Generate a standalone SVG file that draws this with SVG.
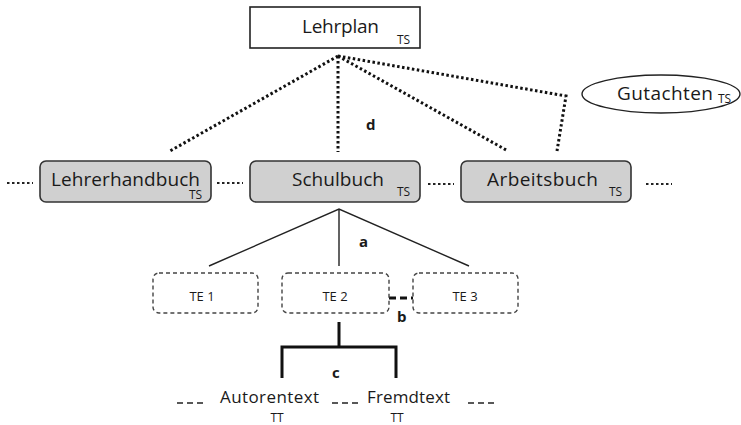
<svg xmlns="http://www.w3.org/2000/svg" width="741" height="425" viewBox="0 0 741 425">
<style>
text{font-family:"Open Sans","Liberation Sans",sans-serif;fill:#1a1a1a}
.lbl{font-size:19px}
.sub{font-size:12px}
.te{font-size:13px}
.bold{font-size:15px;font-weight:bold}
.book{fill:#d0d0d0;stroke:#333;stroke-width:1.6}
.teb{fill:none;stroke:#444;stroke-width:1.4;stroke-dasharray:4 3}
.dot{fill:none;stroke:#111;stroke-width:3;stroke-dasharray:2.5 2.5}
.sdot{fill:none;stroke:#222;stroke-width:2;stroke-dasharray:2.5 2.5}
.sol{fill:none;stroke:#222;stroke-width:1.4}
.brk{fill:none;stroke:#111;stroke-width:3}
.dash{fill:none;stroke:#222;stroke-width:1.5;stroke-dasharray:6 4}
</style>
<rect width="741" height="425" fill="#fff"/>
<g id="connectors">
<path class="dot" d="M338,56 L170,151"/>
<path class="dot" d="M338,56 L338,152"/>
<path class="dot" d="M338,56 L508,151"/>
<path class="dot" d="M338,56 L566,96 L557,151"/>
<path class="sdot" d="M7,183 H33"/>
<path class="sdot" d="M217,183 H243"/>
<path class="sdot" d="M428,184 H454"/>
<path class="sdot" d="M646,184 H672"/>
<path class="sol" d="M209,266 L339,209 L469,266 M339,209 V266"/>
<path fill="none" stroke="#111" stroke-width="3" stroke-dasharray="7 4" d="M389,298 H413"/>
<path class="brk" d="M339,322 V347 M282,378 V347 H396 V378"/>
<path class="dash" d="M177,403 H203"/>
<path class="dash" d="M332,403 H358"/>
<path class="dash" d="M468,403 H494"/>
<text class="bold" x="366" y="130">d</text>
<text class="bold" x="359" y="247">a</text>
<text class="bold" x="397" y="322">b</text>
<text class="bold" x="332" y="378">c</text>
</g>
<g id="lehrplan">
<rect x="250" y="7" width="170" height="41" fill="#fff" stroke="#222" stroke-width="1.6"/>
<text class="lbl" x="302" y="33" textLength="77">Lehrplan</text>
<text class="sub" x="397" y="44">TS</text>
</g>
<g id="gutachten">
<ellipse cx="661" cy="94" rx="79" ry="19" fill="#fff" stroke="#222" stroke-width="1.4"/>
<text class="lbl" x="617" y="100" textLength="96">Gutachten</text>
<text class="sub" x="718" y="103">TS</text>
</g>
<g id="lehrerhandbuch">
<rect class="book" x="40" y="161" width="171" height="41" rx="6"/>
<text class="lbl" x="51" y="186" textLength="149">Lehrerhandbuch</text>
<text class="sub" x="189" y="199">TS</text>
</g>
<g id="schulbuch">
<rect class="book" x="250" y="161" width="170" height="41" rx="6"/>
<text class="lbl" x="292" y="186" textLength="92">Schulbuch</text>
<text class="sub" x="397" y="196">TS</text>
</g>
<g id="arbeitsbuch">
<rect class="book" x="461" y="161" width="170" height="41" rx="6"/>
<text class="lbl" x="487" y="186" textLength="111">Arbeitsbuch</text>
<text class="sub" x="609" y="196">TS</text>
</g>
<g id="te1">
<rect class="teb" x="153" y="273" width="105" height="40" rx="6"/>
<text class="te" x="202" y="301" text-anchor="middle">TE 1</text>
</g>
<g id="te2">
<rect class="teb" x="282" y="273" width="107" height="40" rx="6"/>
<text class="te" x="335" y="301" text-anchor="middle">TE 2</text>
</g>
<g id="te3">
<rect class="teb" x="413" y="273" width="105" height="40" rx="6"/>
<text class="te" x="465" y="301" text-anchor="middle">TE 3</text>
</g>
<g id="autorentext">
<text x="220" y="403" font-size="17" textLength="99">Autorentext</text>
<text x="277" y="422" font-size="12" text-anchor="middle">TT</text>
</g>
<g id="fremdtext">
<text x="367" y="403" font-size="17" textLength="83">Fremdtext</text>
<text x="397" y="422" font-size="12" text-anchor="middle">TT</text>
</g>
</svg>
